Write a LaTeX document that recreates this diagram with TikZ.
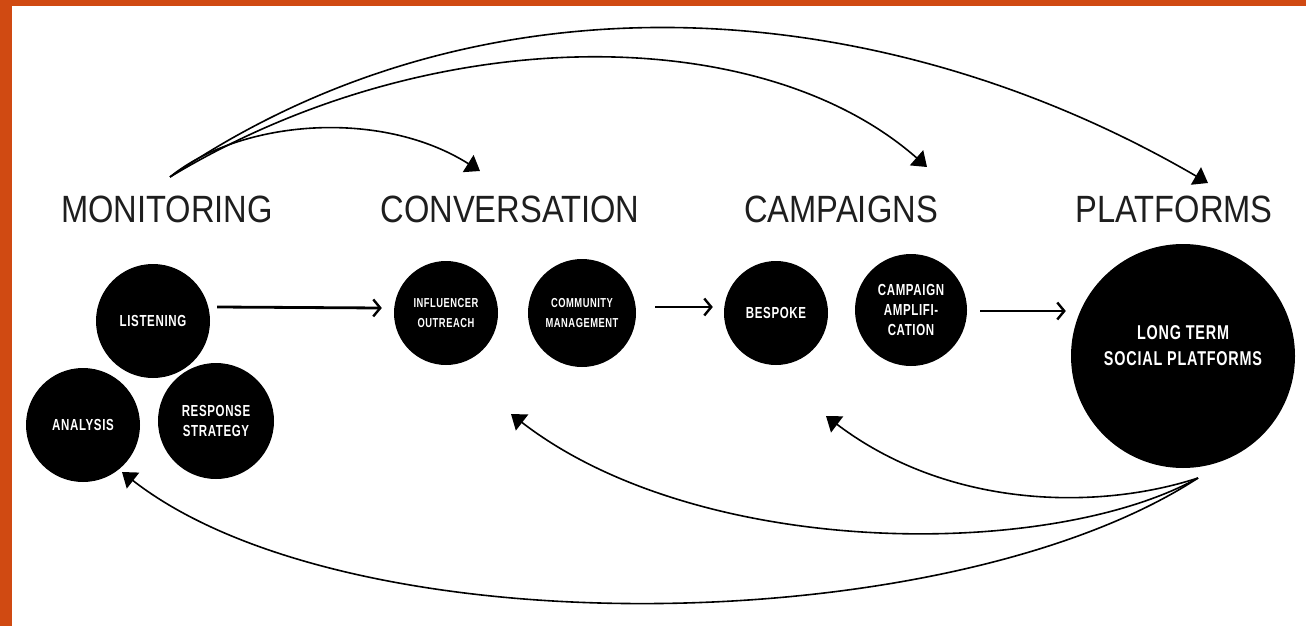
\documentclass[tikz,border=0pt]{standalone}
\usepackage{fontspec}
\setmainfont{Liberation Sans}
\newfontfamily\headfont[FakeStretch=0.86]{Liberation Sans}
\newfontfamily\circfont[FakeStretch=0.72,LetterSpace=4]{Liberation Sans}
\usetikzlibrary{arrows.meta}
\definecolor{frameorange}{RGB}{208,74,18}
\definecolor{ink}{RGB}{30,30,30}
\begin{document}
\begin{tikzpicture}[x=1pt,y=-1pt,
  heading/.style={font=\headfont\fontsize{38}{38}\selectfont, text=ink, anchor=base, inner sep=0pt},
  blob/.style={circle, fill=black, text=white, align=center, inner sep=0pt,
    font=\circfont\bfseries\fontsize{16}{20}\selectfont},
  smalltext/.style={font=\circfont\bfseries\fontsize{13}{20}\selectfont},
  flow/.style={line width=2.8pt, -{Straight Barb[length=7pt,width=17pt,line width=2.4pt]}},
  loop/.style={line width=1.6pt, -{Triangle[length=14pt,width=20pt]}},
]
% frame
\fill[frameorange] (0,0) rectangle (1306,626);
\fill[white] (12,6) rectangle (1306,626);
\useasboundingbox (0,0) rectangle (1306,626);

% stage headings
\node[heading] (h-mon)  at (167,222) {MONITORING};
\node[heading] (h-conv) at (510,222) {CONVERSATION};
\node[heading] (h-camp) at (841,222) {CAMPAIGNS};
\node[heading] (h-plat) at (1174,222) {PLATFORMS};

% monitoring cluster
\node[blob, minimum size=114pt] (listen) at (153,321) {LISTENING};
\node[blob, minimum size=114pt] (analysis) at (83,425) {ANALYSIS};
\node[blob, minimum size=116pt] (response) at (216,421) {RESPONSE\\STRATEGY};

% conversation
\node[blob, smalltext, minimum size=104pt] (influ) at (446,313) {INFLUENCER\\OUTREACH};
\node[blob, smalltext, minimum size=108pt] (comm) at (582,313) {COMMUNITY\\MANAGEMENT};

% campaigns
\node[blob, minimum size=104pt] (bespoke) at (776,313) {BESPOKE};
\node[blob, minimum size=112pt] (amp) at (911,310) {CAMPAIGN\\AMPLIFI-\\CATION};

% platforms
\node[blob, minimum size=224pt, font=\circfont\bfseries\fontsize{20}{26}\selectfont]
  (platform) at (1183,356) {LONG TERM\\SOCIAL PLATFORMS\\[-6pt]};

% forward flow
\draw[flow] ([shift={(7,-14)}]listen.east) -- ([shift={(-12,-5)}]influ.west);
\draw[flow] ([shift={(19,-6)}]comm.east) -- ([shift={(-11,-6)}]bespoke.west);
\draw[flow] ([shift={(13,1)}]amp.east) -- ([shift={(-5,-45)}]platform.west);

% arcs over the top
\coordinate (mon-root)  at (170,177);
\coordinate (conv-hit)  at (480,171);
\coordinate (camp-hit)  at (927,167);
\coordinate (plat-hit)  at (1208,183);
\draw[loop] (mon-root) .. controls (240,120) and (380,108) .. (conv-hit);
\draw[loop] (mon-root) .. controls (430,20) and (760,20) .. (camp-hit);
\draw[loop] (mon-root) .. controls (480,-36) and (880,-8) .. (plat-hit);

% feedback arcs underneath
\coordinate (plat-root) at (1198,478);
\coordinate (camp-back) at (826,416);
\coordinate (conv-back) at (511,414);
\coordinate (mon-back)  at (122,472);
\draw[loop] (plat-root) .. controls (1100,510) and (950,510) .. (camp-back);
\draw[loop] (plat-root) .. controls (1050,560) and (700,560) .. (conv-back);
\draw[loop] (plat-root) .. controls (950,640) and (350,650) .. (mon-back);
\end{tikzpicture}
\end{document}
